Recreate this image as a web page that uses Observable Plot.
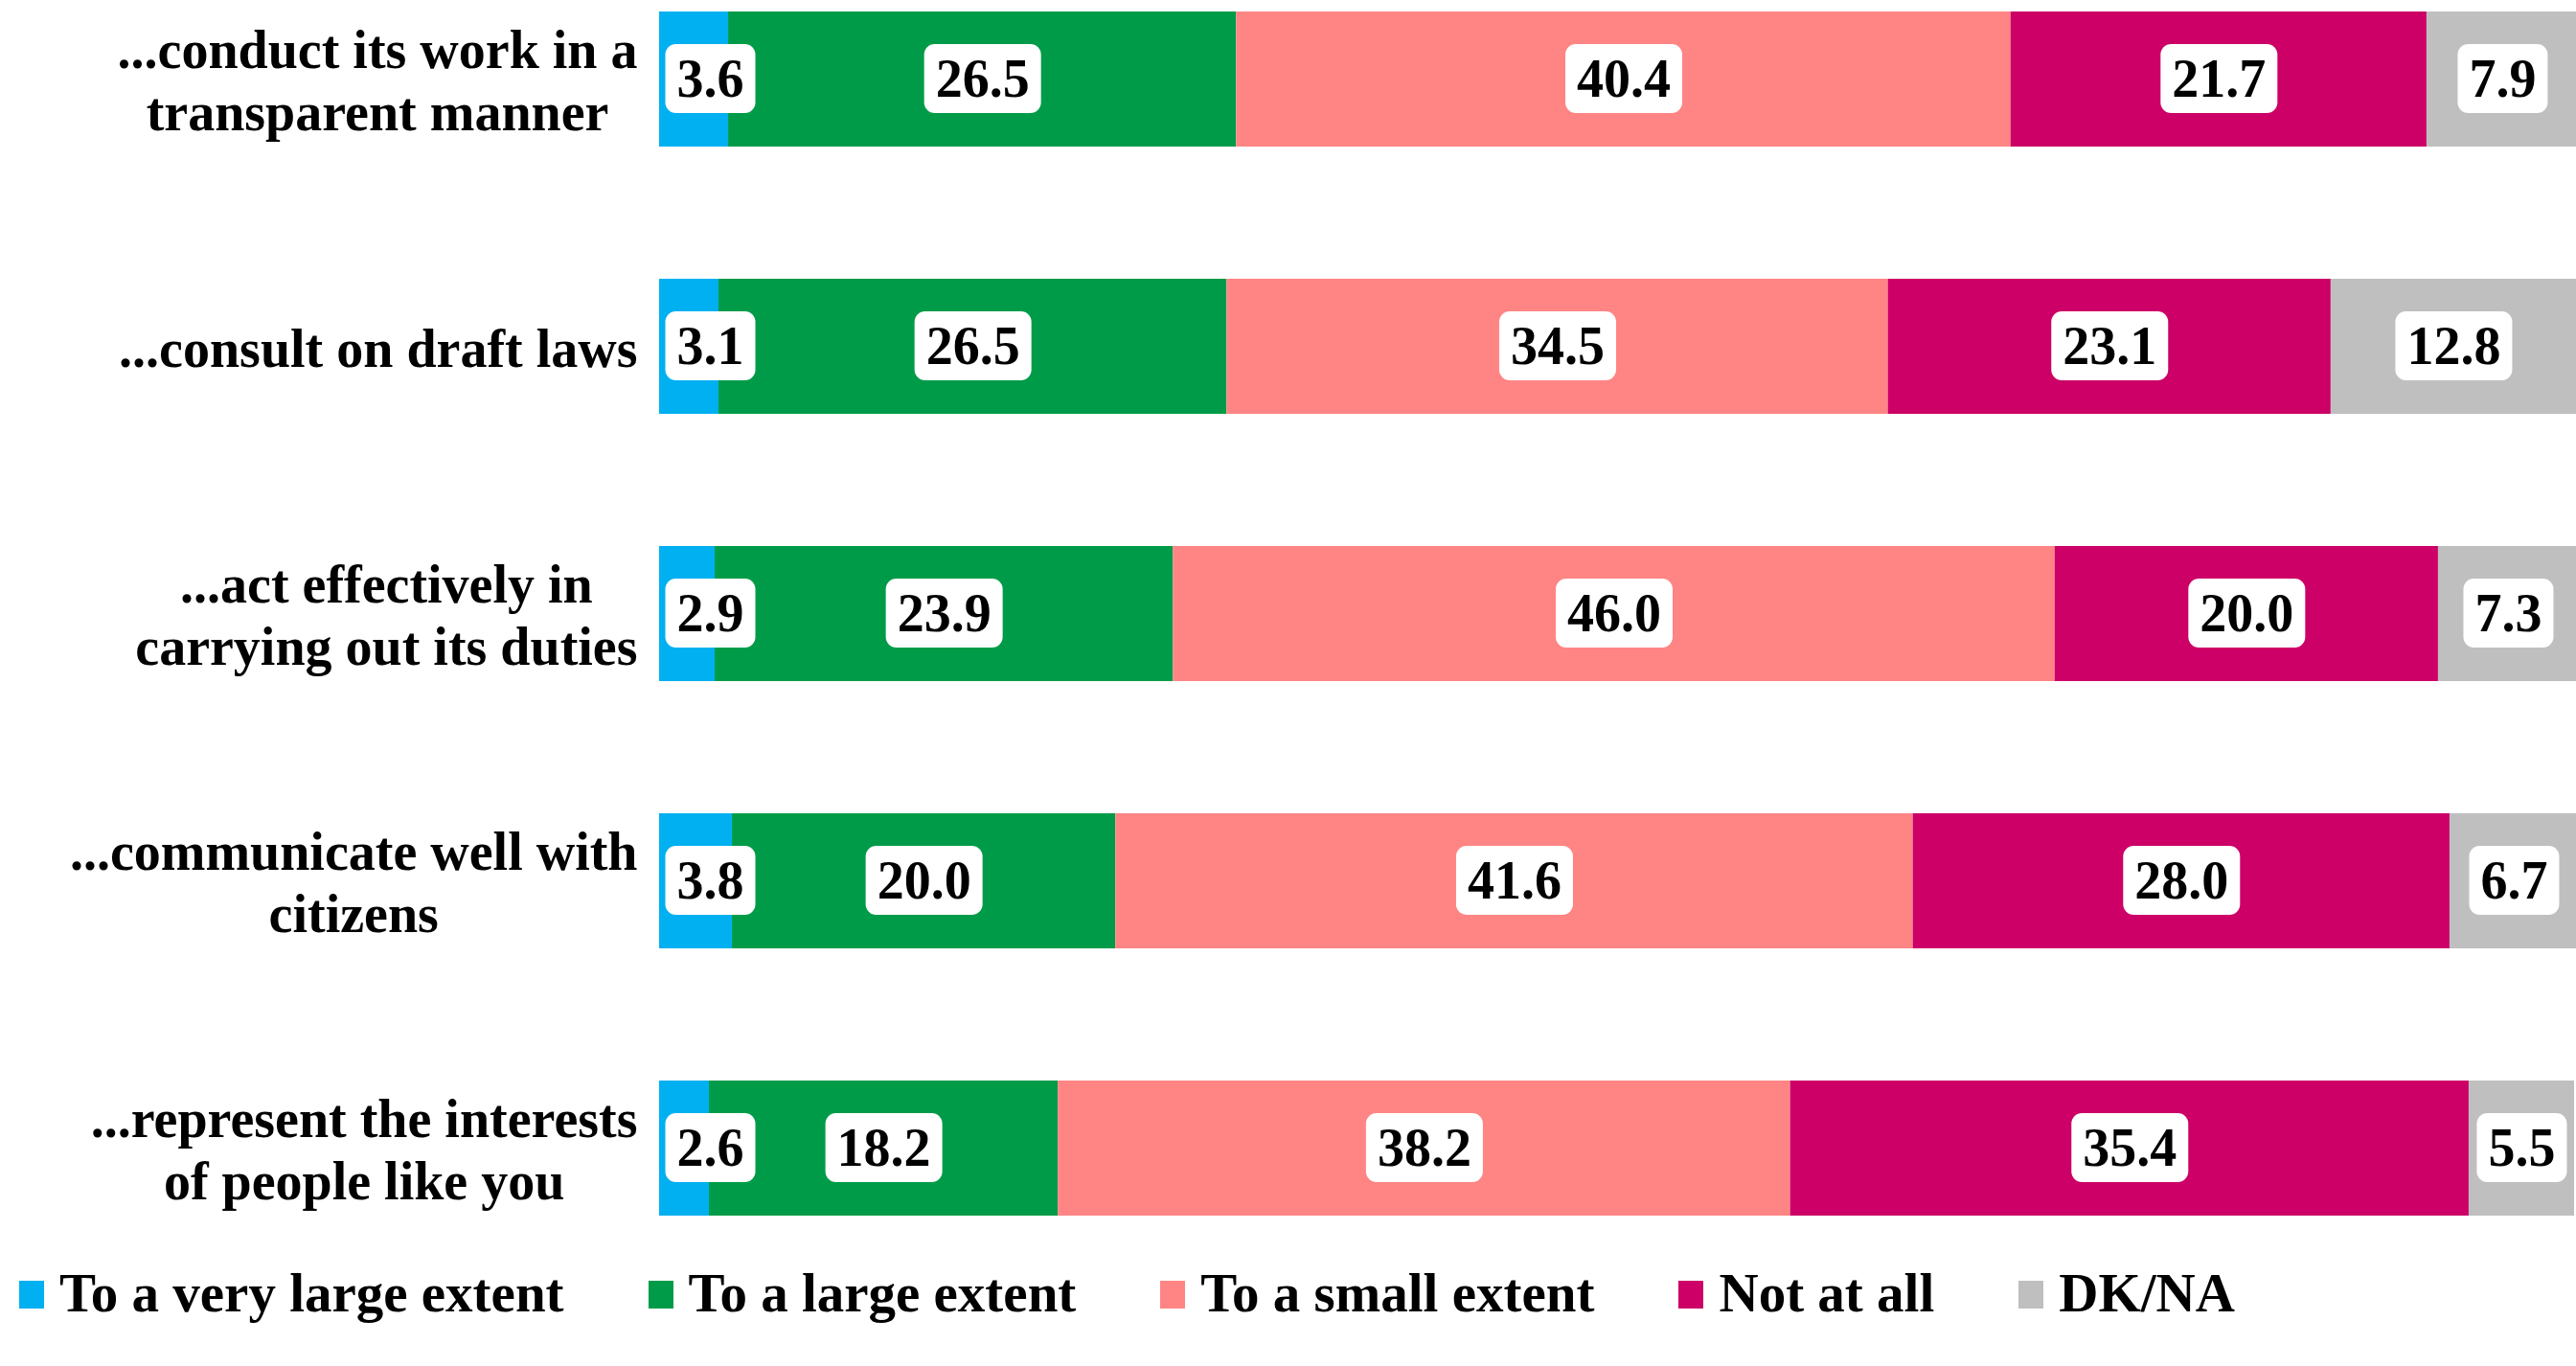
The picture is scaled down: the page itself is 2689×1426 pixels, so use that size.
<!DOCTYPE html>
<html>
<head>
<meta charset="utf-8">
<script src="https://cdn.jsdelivr.net/npm/d3@7"></script>
<script src="https://cdn.jsdelivr.net/npm/@observablehq/plot@0.6"></script>
<style>
  html, body { margin: 0; padding: 0; background: #fff; }
  body { width: 2689px; height: 1426px; overflow: hidden; font-family: "Liberation Serif", serif; }
  #legend { display: flex; padding-left: 20px; padding-top: 28px; font-size: 57px; font-weight: bold; line-height: 64px; color: #000; white-space: nowrap; }
  #legend .item { margin-right: 88px; }
  #legend .sw { display: inline-block; width: 26px; height: 29px; margin-right: 16px; vertical-align: 3px; }
</style>
</head>
<body>
<div id="chart"></div>
<div id="legend"></div>
<script>
const rows = ["conduct", "consult", "act", "communicate", "represent"];
const rowLabels = [
  "...conduct its work in a\ntransparent manner",
  "...consult on draft laws",
  "...act effectively in\ncarrying out its duties",
  "...communicate well with\ncitizens",
  "...represent the interests\nof people like you"
];
const series = ["To a very large extent", "To a large extent", "To a small extent", "Not at all", "DK/NA"];
const colors = ["#00B0F0", "#009B48", "#FF8585", "#CC0066", "#BFBFBF"];
const veryLarge = [3.6, 3.1, 2.9, 3.8, 2.6];
const large = [26.5, 26.5, 23.9, 20.0, 18.2];
const small = [40.4, 34.5, 46.0, 41.6, 38.2];
const notAtAll = [21.7, 23.1, 20.0, 28.0, 35.4];
const dkna = [7.9, 12.8, 7.3, 6.7, 5.5];

const seriesValues = [veryLarge, large, small, notAtAll, dkna];
const data = rows.flatMap((r, i) => series.map((s, j) => ({row: r, series: s, value: seriesValues[j][i]})));
const labelOf = new Map(rows.map((r, i) => [r, rowLabels[i]]));

const plot = Plot.plot({
  width: 2689,
  height: 1290,
  marginLeft: 688,
  marginRight: 0,
  marginTop: 10,
  marginBottom: 19,
  style: {fontFamily: "Liberation Serif", background: "#fff", color: "#000"},
  x: {domain: [0, 100], axis: null},
  y: {domain: rows, paddingInner: 0.496, paddingOuter: 0, label: null},
  color: {domain: series, range: colors},
  marks: [
    Plot.barX(data, Plot.stackX({x: "value", y: "row", fill: "series"})),
    Plot.axisY({tickSize: 0, tickPadding: 23, fontSize: 56, fontWeight: "bold", lineHeight: 1.15, tickFormat: d => labelOf.get(d), label: null}),
    Plot.text(data, Plot.stackX({x: "value", y: "row", text: d => d.series === series[0] ? null : d.value.toFixed(1),
      fontSize: 56, fontWeight: "bold", fill: "#000"})),
    Plot.text(data.filter(d => d.series === series[0]), {x: () => 0, y: "row", text: d => d.value.toFixed(1),
      textAnchor: "start", dx: 18, fontSize: 56, fontWeight: "bold", fill: "#000"})
  ]
});
document.getElementById("chart").appendChild(plot);

const legend = document.getElementById("legend");
series.forEach((s, i) => {
  const item = document.createElement("span");
  item.className = "item";
  const sw = document.createElement("span");
  sw.className = "sw";
  sw.style.background = colors[i];
  item.appendChild(sw);
  item.appendChild(document.createTextNode(s));
  legend.appendChild(item);
});

function finish() {
  // white rounded boxes behind value labels
  plot.querySelectorAll('g[aria-label="text"] text').forEach(t => {
    const b = t.getBBox();
    if (!b.width) return;
    const rect = document.createElementNS("http://www.w3.org/2000/svg", "rect");
    const cy = b.y + b.height / 2;
    rect.setAttribute("x", b.x - 12);
    rect.setAttribute("y", cy - 36);
    rect.setAttribute("width", b.width + 24);
    rect.setAttribute("height", 72);
    rect.setAttribute("rx", 11);
    rect.setAttribute("fill", "#fff");
    const tr = t.getAttribute("transform");
    if (tr) rect.setAttribute("transform", tr);
    t.parentNode.insertBefore(rect, t);
  });
  // center-align multi-line y labels within their block
  plot.querySelectorAll('g[aria-label="y-axis tick label"] text').forEach(t => {
    const w = t.getBBox().width;
    t.setAttribute("text-anchor", "middle");
    const tspans = t.querySelectorAll("tspan");
    if (tspans.length) tspans.forEach(ts => ts.setAttribute("x", -w / 2));
    else t.setAttribute("x", -w / 2 + (+t.getAttribute("x") || 0));
  });
}
if (document.fonts && document.fonts.ready) document.fonts.ready.then(finish); else finish();
</script>
</body>
</html>
